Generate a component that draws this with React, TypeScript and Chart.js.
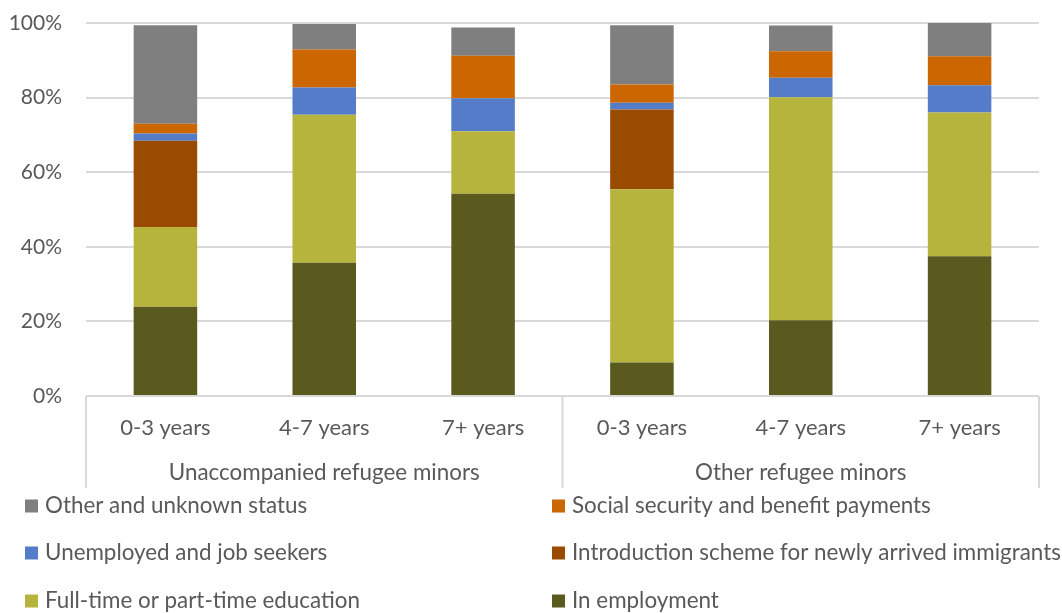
import React, { useEffect, useRef } from "react";
import { Chart, registerables } from "chart.js";

Chart.register(...registerables);

const categories = ["0-3 years", "4-7 years", "7+ years", "0-3 years", "4-7 years", "7+ years"];
const groups = ["Unaccompanied refugee minors", "Other refugee minors"];
const yTicks = [0, 20, 40, 60, 80, 100];

const inEmployment = [23.9, 35.7, 54.2, 9.0, 20.3, 37.5];
const education = [21.4, 39.7, 16.8, 46.4, 59.8, 38.5];
const introduction = [23.1, 0, 0, 21.4, 0, 0];
const unemployed = [2.0, 7.3, 8.8, 1.8, 5.2, 7.3];
const socialSecurity = [2.6, 10.2, 11.4, 4.9, 7.1, 7.8];
const otherUnknown = [26.4, 6.8, 7.6, 15.9, 6.9, 8.9];

const seriesNames = [
  "In employment",
  "Full-time or part-time education",
  "Introduction scheme for newly arrived immigrants",
  "Unemployed and job seekers",
  "Social security and benefit payments",
  "Other and unknown status",
];
const seriesColors = ["#5B5A1E", "#B7B43E", "#994C00", "#557CC8", "#CC6600", "#7F7F7F"];
const seriesData = [inEmployment, education, introduction, unemployed, socialSecurity, otherUnknown];

// legend order (row-wise, two columns)
const legendOrder = [5, 4, 3, 2, 1, 0];

const FONT = "Lato";
const TEXT = "#595959";
const GRID = "#d9d9d9";

export default function App() {
  const ref = useRef<HTMLCanvasElement | null>(null);
  useEffect(() => {
    document.body.style.margin = "0";
    const canvas = ref.current!;
    const decorPlugin = {
      id: "decor",
      afterDraw(chart: any) {
        const ctx = chart.ctx;
        const x = chart.scales.x;
        const area = chart.chartArea;
        ctx.save();
        // separators
        ctx.strokeStyle = GRID;
        ctx.lineWidth = 2;
        const mid = (x.getPixelForTick(2) + x.getPixelForTick(3)) / 2;
        for (const px of [area.left, mid, area.right]) {
          ctx.beginPath();
          ctx.moveTo(px, area.bottom);
          ctx.lineTo(px, 488);
          ctx.stroke();
        }
        // group labels
        ctx.fillStyle = TEXT;
        ctx.font = `22.4px ${FONT}`;
        ctx.textAlign = "center";
        ctx.textBaseline = "middle";
        ctx.fillText(groups[0], x.getPixelForTick(1), 473);
        ctx.fillText(groups[1], x.getPixelForTick(4), 473);
        // legend
        const colX = [25, 552];
        const rowY = [506, 553, 601];
        ctx.textAlign = "left";
        legendOrder.forEach((si, i) => {
          const c = i % 2;
          const r = Math.floor(i / 2);
          ctx.fillStyle = seriesColors[si];
          ctx.fillRect(colX[c], rowY[r] - 6.5, 13, 13);
          ctx.fillStyle = TEXT;
          ctx.fillText(seriesNames[si], colX[c] + 20, rowY[r]);
        });
        ctx.restore();
      },
    };
    const chart = new Chart(canvas, {
      type: "bar",
      data: {
        labels: categories,
        datasets: seriesData.map((d, i) => ({
          label: seriesNames[i],
          data: d,
          backgroundColor: seriesColors[i],
          borderWidth: 0,
          barPercentage: 0.4,
          categoryPercentage: 1.0,
        })),
      },
      options: {
        responsive: false,
        animation: false,
        layout: { padding: { top: 23, right: 23, left: 0, bottom: 0 } },
        plugins: { legend: { display: false }, tooltip: { enabled: false } },
        scales: {
          x: {
            stacked: true,
            grid: { display: false, drawTicks: false },
            border: { display: false },
            ticks: { color: TEXT, font: { family: FONT, size: 22 }, padding: 19, maxRotation: 0 },
            afterFit: (s: any) => {
              s.height = 217;
            },
          },
          y: {
            stacked: true,
            min: 0,
            max: 100,
            afterBuildTicks: (s: any) => {
              s.ticks = yTicks.map((v) => ({ value: v }));
            },
            grid: { color: GRID, lineWidth: 2, drawTicks: false },
            border: { display: false },
            ticks: {
              color: TEXT,
              font: { family: FONT, size: 21 },
              padding: 24,
              callback: (v: any) => `${v}%`,
            },
            afterFit: (s: any) => {
              s.width = 86;
              s.paddingTop = 0;
              s.paddingBottom = 0;
            },
          },
        },
      },
      plugins: [decorPlugin],
    });
    return () => chart.destroy();
  }, []);
  return <canvas ref={ref} width={1062} height={613} style={{ display: "block" }} />;
}
